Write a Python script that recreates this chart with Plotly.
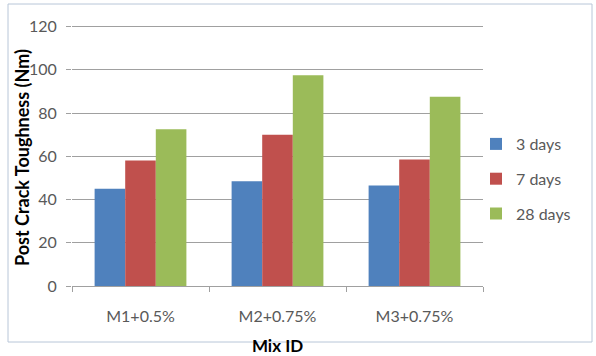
import plotly.graph_objects as go

categories = ["M1+0.5%", "M2+0.75%", "M3+0.75%"]
series_names = ["3 days", "7 days", "28 days"]
values_3d = [45, 48.5, 46.5]
values_7d = [58, 70, 58.5]
values_28d = [72.5, 97.5, 87.5]
colors = ["#4F81BD", "#C0504D", "#9BBB59"]
y_ticks = [0, 20, 40, 60, 80, 100, 120]

fig = go.Figure()
for name, vals, col in zip(series_names, [values_3d, values_7d, values_28d], colors):
    fig.add_trace(go.Bar(x=categories, y=vals, name=name, legendgroup=name,
                         marker=dict(color=col, line=dict(width=0))))

W, H = 596, 356
L, R, T, B = 72, 113, 24, 70
pw, ph = W - L - R, H - T - B

def px_to_paper_x(px):
    return (px - L) / pw

def px_to_paper_y(py):
    return (H - B - py) / ph

fig.update_layout(
    width=W, height=H,
    margin=dict(l=L, r=R, t=T, b=B, autoexpand=False),
    paper_bgcolor="white", plot_bgcolor="white",
    font=dict(family="Lato, Open Sans, sans-serif", color="#595959", size=16),
    barmode="group", bargap=0.33, bargroupgap=0,
    showlegend=True,
    legend=dict(x=px_to_paper_x(476), y=px_to_paper_y(127), xanchor="left", yanchor="top",
                font=dict(size=16, color="#595959"), tracegroupgap=11, itemwidth=30,
                bgcolor="rgba(0,0,0,0)"),
    xaxis=dict(
        automargin=False,
        showgrid=False, showline=True, linecolor="#A0A0A0", linewidth=1,
        ticks="outside", ticklen=5, tickcolor="#A0A0A0", tickson="boundaries",
        tickfont=dict(size=16, color="#595959"), ticklabelstandoff=16,
        title=dict(text="<b>Mix ID</b>", font=dict(size=17, color="#000000"), standoff=31),
    ),
    yaxis=dict(
        automargin=False,
        range=[0, 121.2], tickvals=y_ticks, showgrid=True, gridcolor="#A0A0A0", gridwidth=1,
        showline=False, zeroline=False, ticks="outside", ticklen=5, tickcolor="#A0A0A0",
        tickfont=dict(size=16, color="#595959"), ticklabelstandoff=6,
    ),
)

fig.add_annotation(text="<b>Post Crack Toughness (Nm)</b>", textangle=-90,
                   xref="paper", yref="paper", x=px_to_paper_x(22), y=px_to_paper_y(158),
                   xanchor="center", yanchor="middle", showarrow=False,
                   font=dict(size=18, color="#000000"))

fig.add_shape(type="rect", xref="paper", yref="paper",
              x0=px_to_paper_x(8), x1=px_to_paper_x(592), y0=px_to_paper_y(342), y1=px_to_paper_y(4),
              line=dict(color="#B8C6D8", width=1), layer="below")

fig.write_html("out.html", config={"displayModeBar": False},
               post_script="document.body.style.margin='0';document.body.style.overflow='hidden';")
